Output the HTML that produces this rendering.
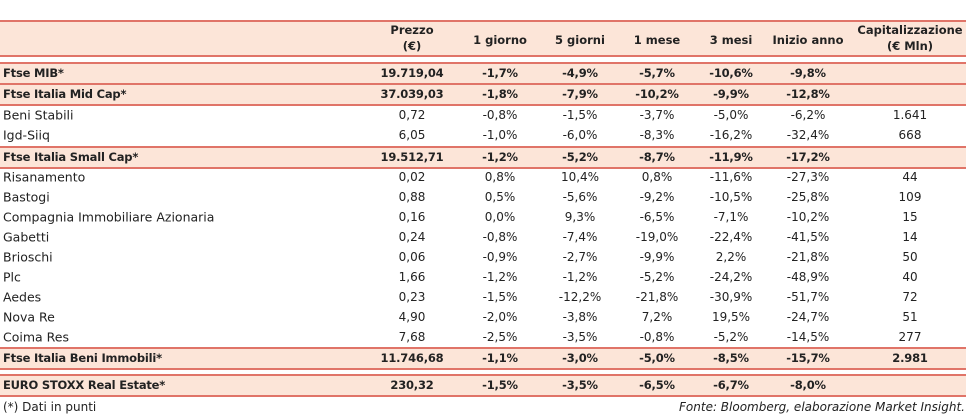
<!DOCTYPE html>
<html><head><meta charset="utf-8"><style>
body{margin:0;width:973px;height:418px;background:#fff;position:relative;overflow:hidden;font-family:"DejaVu Sans","Liberation Sans",sans-serif;color:#222}
.ln{position:absolute;left:0;width:966px;height:2px;background:#e07468}
.fill{position:absolute;left:0;width:966px;background:#fce5d8}
.c{position:absolute;white-space:nowrap;font-size:12px;transform:translate(-50%,-50%)}
.l{position:absolute;white-space:nowrap;font-size:12.5px;transform:translateY(-50%);left:3px}
.b{font-weight:bold;font-size:11.5px;letter-spacing:-0.2px}
.h{position:absolute;font-weight:bold;font-size:11.5px;text-align:center;transform:translate(-50%,-50%);line-height:16px;white-space:nowrap}
.foot{position:absolute;font-size:12px;top:400px}
</style></head><body>
<div class="fill" style="top:22px;height:34px"></div>
<div class="ln" style="top:20px"></div>
<div class="ln" style="top:55px"></div>
<div class="h" style="left:412px;top:38px">Prezzo<br>(€)</div>
<div class="h" style="left:500px;top:40px">1 giorno</div>
<div class="h" style="left:580px;top:40px">5 giorni</div>
<div class="h" style="left:657px;top:40px">1 mese</div>
<div class="h" style="left:731px;top:40px">3 mesi</div>
<div class="h" style="left:808px;top:40px">Inizio anno</div>
<div class="h" style="left:910px;top:38px">Capitalizzazione<br>(€ Mln)</div>
<div class="foot" style="left:3px">(*) Dati in punti</div>
<div class="foot" style="right:8px;font-style:italic">Fonte: Bloomberg, elaborazione Market Insight.</div>
<script>
const names=["Ftse MIB*","Ftse Italia Mid Cap*","Beni Stabili","Igd-Siiq","Ftse Italia Small Cap*","Risanamento","Bastogi","Compagnia Immobiliare Azionaria","Gabetti","Brioschi","Plc","Aedes","Nova Re","Coima Res","Ftse Italia Beni Immobili*","EURO STOXX Real Estate*"];
const bold=[1,1,0,0,1,0,0,0,0,0,0,0,0,0,1,1];
const prezzo=["19.719,04","37.039,03","0,72","6,05","19.512,71","0,02","0,88","0,16","0,24","0,06","1,66","0,23","4,90","7,68","11.746,68","230,32"];
const g1=["-1,7%","-1,8%","-0,8%","-1,0%","-1,2%","0,8%","0,5%","0,0%","-0,8%","-0,9%","-1,2%","-1,5%","-2,0%","-2,5%","-1,1%","-1,5%"];
const g5=["-4,9%","-7,9%","-1,5%","-6,0%","-5,2%","10,4%","-5,6%","9,3%","-7,4%","-2,7%","-1,2%","-12,2%","-3,8%","-3,5%","-3,0%","-3,5%"];
const m1=["-5,7%","-10,2%","-3,7%","-8,3%","-8,7%","0,8%","-9,2%","-6,5%","-19,0%","-9,9%","-5,2%","-21,8%","7,2%","-0,8%","-5,0%","-6,5%"];
const m3=["-10,6%","-9,9%","-5,0%","-16,2%","-11,9%","-11,6%","-10,5%","-7,1%","-22,4%","2,2%","-24,2%","-30,9%","19,5%","-5,2%","-8,5%","-6,7%"];
const ya=["-9,8%","-12,8%","-6,2%","-32,4%","-17,2%","-27,3%","-25,8%","-10,2%","-41,5%","-21,8%","-48,9%","-51,7%","-24,7%","-14,5%","-15,7%","-8,0%"];
const cap=["","","1.641","668","","44","109","15","14","50","40","72","51","277","2.981",""];
const rowY=[73,94,115,135,157,177,197,217,237,257,277,297,317,337,358,385];
const colX=[412,500,580,657,731,808,910];
const cols=[prezzo,g1,g5,m1,m3,ya,cap];
function add(cls,style,text){const d=document.createElement('div');d.className=cls;d.setAttribute('style',style);if(text!==undefined)d.textContent=text;document.body.appendChild(d);return d;}
names.forEach((n,i)=>{
  const y=rowY[i];
  if(bold[i]){
    const f=add('fill','top:'+(y-9)+'px;height:19px');
    
    
    const a=add('ln','top:'+(y-11)+'px');
    
    
    const b=add('ln','top:'+(y+10)+'px');
    
    
  }
  const t=add('l'+(bold[i]?' b':''),'top:'+y+'px',n);
  
  
  cols.forEach((c,j)=>{
    const v=add('c'+(bold[i]?' b':''),'left:'+colX[j]+'px;top:'+y+'px',c[i]);
    
    
  });
});
</script>
</body></html>
